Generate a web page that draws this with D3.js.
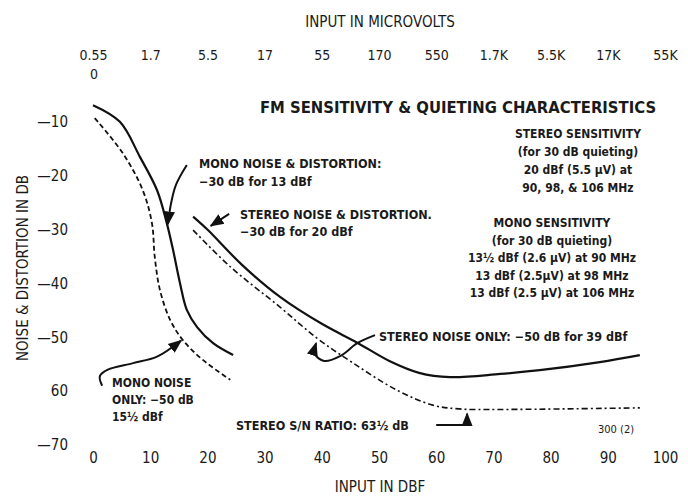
<!DOCTYPE html>
<html><head><meta charset="utf-8">
<script src="https://cdn.jsdelivr.net/npm/d3@7"></script>
<style>
html,body{margin:0;padding:0;background:#fff;}
svg{display:block;}
text{font-family:"Liberation Sans Narrow","DejaVu Sans Condensed","Roboto Condensed",sans-serif;fill:#1a1a1a;}
.b{font-weight:bold;}
</style></head><body>
<svg id="c" width="688" height="498"></svg>
<script>
// ---- data ----
const xTicksDbf = [0,10,20,30,40,50,60,70,80,90,100];
const xTicksUv = ["0.55","1.7","5.5","17","55","170","550","1.7K","5.5K","17K","55K"];
const yTicks = [0,-10,-20,-30,-40,-50,-60,-70];
const yTickLabels = ["0","\u201410","\u201420","\u201430","\u201440","\u201450","60","\u201470"];

const monoND_x = [0,4.7,8.2,11.2,12.9,14.0,15.2,16.4,18.2,21.0,24.5];
const monoND_y = [-6.9,-10,-16.5,-22.7,-28.8,-33.8,-39.9,-44.9,-48.1,-51.1,-53.3];

const monoN_x = [0.3,5.2,8.7,10.3,10.8,11.7,13.5,15.7,19.2,24.0];
const monoN_y = [-9.3,-15.8,-22.7,-28.8,-35.1,-41.2,-46.8,-50.5,-54.2,-57.9];

const stereoND_x = [17.5,20,26,32.7,40,46.2,52,57,62.4,71.2,78.1,88.6,95.6];
const stereoND_y = [-27.6,-30,-36.5,-42.5,-47.5,-51,-54.5,-56.6,-57.4,-56.8,-56.1,-54.6,-53.3];

const stereoN_x = [17.5,24,32.7,39.2,45.5,53.1,59.4,64,71.2,95.6];
const stereoN_y = [-30.1,-36.9,-44.4,-50.2,-54.8,-59.8,-62.6,-63.3,-63.4,-63.1];

// annotation arrow paths (data units)
const arrowMonoND = [[16.4,-18.0],[14.5,-21.7],[13.6,-25.4],[13.1,-29.0]];
const arrowStereoND = [[23.8,-27.1],[20.6,-29.3]];
const arrowStereoN = [[49.3,-49.6],[46.2,-51.1],[43.2,-53.5],[40.4,-54.4],[38.8,-53.1],[39.0,-51.1]];
const arrowMonoN = [[1.6,-59.0],[1.2,-57.2],[2.6,-56.0],[7.0,-54.8],[11.2,-53.6],[15.4,-50.6]];
const arrowSN = [[60,-66.3],[65.4,-66.3],[65.4,-64.2]];

// ---- chart ----
const svg = d3.select("#c");
const x = d3.scaleLinear().domain([0,100]).range([93,665]);
const y = d3.scaleLinear().domain([0,-70]).range([68,445]);

svg.append("defs").append("marker")
  .attr("id","ah").attr("viewBox","0 0 10 10").attr("refX",9).attr("refY",5)
  .attr("markerWidth",7).attr("markerHeight",7).attr("orient","auto-start-reverse")
  .append("path").attr("d","M0,1 L10,5 L0,9 z").attr("fill","#111");

// bottom axis labels
const gb = svg.append("g").attr("transform","translate(0,452)")
  .call(d3.axisBottom(x).tickValues(xTicksDbf).tickSize(0).tickPadding(0));
gb.select(".domain").remove();
gb.selectAll("text").attr("font-size",15).attr("dy","0.71em").attr("font-family",null);

// top axis labels
const gt = svg.append("g").attr("transform","translate(0,60)")
  .call(d3.axisTop(x).tickValues(xTicksDbf).tickSize(0).tickPadding(0)
    .tickFormat((d,i)=>xTicksUv[i]));
gt.select(".domain").remove();
gt.selectAll("text").attr("font-size",14).attr("font-family",null);

// left axis labels
const gl = svg.append("g").attr("transform","translate(68,0)")
  .call(d3.axisLeft(y).tickValues(yTicks).tickSize(0).tickPadding(0)
    .tickFormat((d,i)=>yTickLabels[i]));
gl.select(".domain").remove();
gl.selectAll("text").attr("font-size",15).attr("font-family",null);
gl.selectAll(".tick").filter(d=>d===0).select("text")
  .attr("text-anchor","middle").attr("x",26).attr("dy","0.75em").attr("font-size",14);

// titles
svg.append("text").attr("x",380).attr("y",27).attr("text-anchor","middle")
  .attr("font-size",15).text("INPUT IN MICROVOLTS");
svg.append("text").attr("x",380).attr("y",492).attr("text-anchor","middle")
  .attr("font-size",15).text("INPUT IN DBF");
svg.append("text").attr("transform","translate(28,268) rotate(-90)").attr("text-anchor","middle")
  .attr("font-size",15).text("NOISE & DISTORTION IN DB");

// curves
const line = d3.line().x(d=>x(d[0])).y(d=>y(d[1])).curve(d3.curveCatmullRom.alpha(0.5));
const zip = (a,b)=>a.map((v,i)=>[v,b[i]]);
svg.append("path").datum(zip(monoND_x,monoND_y)).attr("d",line)
  .attr("fill","none").attr("stroke","#111").attr("stroke-width",2.2);
svg.append("path").datum(zip(monoN_x,monoN_y)).attr("d",line)
  .attr("fill","none").attr("stroke","#111").attr("stroke-width",1.8).attr("stroke-dasharray","5,3");
svg.append("path").datum(zip(stereoND_x,stereoND_y)).attr("d",line)
  .attr("fill","none").attr("stroke","#111").attr("stroke-width",2.2);
svg.append("path").datum(zip(stereoN_x,stereoN_y)).attr("d",line)
  .attr("fill","none").attr("stroke","#111").attr("stroke-width",1.6).attr("stroke-dasharray","6,3,2,3");

// arrows
const aline = d3.line().x(d=>x(d[0])).y(d=>y(d[1])).curve(d3.curveCatmullRom);
const sline = d3.line().x(d=>x(d[0])).y(d=>y(d[1]));
[[arrowMonoND,aline],[arrowStereoND,sline],[arrowStereoN,aline],[arrowMonoN,aline],[arrowSN,sline]]
 .forEach(([p,l])=>{
   svg.append("path").datum(p).attr("d",l).attr("fill","none")
     .attr("stroke","#111").attr("stroke-width",2).attr("marker-end","url(#ah)");
 });

// annotation text
function block(lines, xx, yy, dy, size, anchor){
  const t = svg.append("text").attr("class","b").attr("font-size",size).attr("text-anchor",anchor||"start");
  lines.forEach((s,i)=>t.append("tspan").attr("x",xx).attr("y",yy+i*dy).text(s));
}
block(["FM SENSITIVITY & QUIETING CHARACTERISTICS"],458,113,0,16.5,"middle");
block(["STEREO SENSITIVITY","(for 30 dB quieting)","20 dBf (5.5 \u03bcV) at","90, 98, & 106 MHz"],578,138,18,12,"middle");
block(["MONO SENSITIVITY","(for 30 dB quieting)","13\u00bd dBf (2.6 \u03bcV) at 90 MHz","13 dBf (2.5\u03bcV) at 98 MHz","13 dBf (2.5 \u03bcV) at 106 MHz"],552,227,17.5,12,"middle");
block(["MONO NOISE & DISTORTION:","\u221230 dB for 13 dBf"],199,168,18,12.5);
block(["STEREO NOISE & DISTORTION.","\u221230 dB for 20 dBf"],240,219,17,12.5);
block(["STEREO NOISE ONLY: \u221250 dB for 39 dBf"],379,341,0,12.5);
block(["MONO NOISE","ONLY: \u221250 dB","15\u00bd dBf"],112,387,17,12);
block(["STEREO S/N RATIO: 63\u00bd dB"],236,430,0,12.5);
svg.append("text").attr("x",598).attr("y",433).attr("font-size",11).text("300 (2)");
</script>
</body></html>
